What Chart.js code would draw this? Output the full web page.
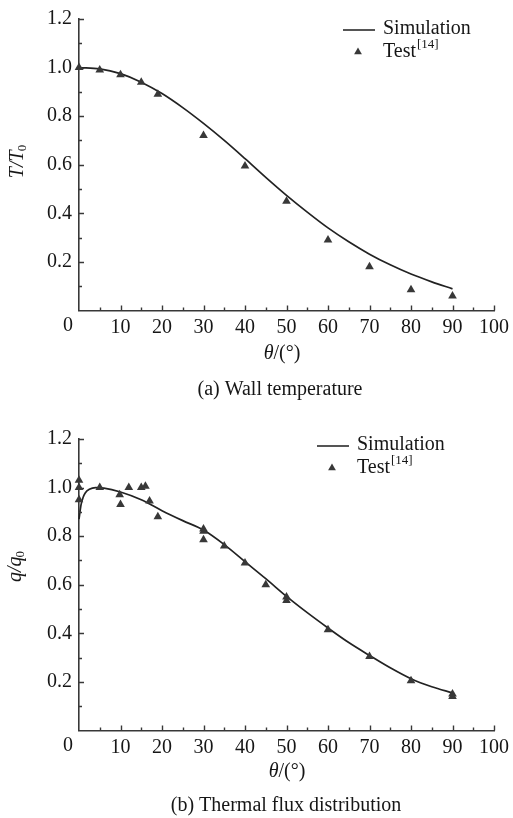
<!DOCTYPE html>
<html>
<head>
<meta charset="utf-8">
<script src="https://cdn.jsdelivr.net/npm/chart.js@4.4.1/dist/chart.umd.min.js"></script>
<style>
  html, body { margin: 0; padding: 0; background: #fff; width: 513px; height: 818px; overflow: hidden; }
  .panel { position: absolute; left: 0; }
  #wrapA { top: 0; }
  #wrapB { top: 420px; }
</style>
</head>
<body>
<div class="panel" id="wrapA"><canvas id="chartA" width="530" height="420"></canvas></div>
<div class="panel" id="wrapB"><canvas id="chartB" width="530" height="398"></canvas></div>
<script>
// ---- (a) wall temperature, T/T0 versus theta ----
const wallSimTheta = [0, 5, 10, 15, 20, 25, 30, 35, 40, 45, 50, 55, 60, 65, 70, 75, 80, 85, 90];
const wallSimT     = [1.0, 0.995, 0.975, 0.94, 0.893, 0.835, 0.77, 0.70, 0.625, 0.548, 0.474, 0.405, 0.34, 0.283, 0.232, 0.188, 0.15, 0.118, 0.089];
const wallTestTheta = [0, 5, 10, 15, 19, 30, 40, 50, 60, 70, 80, 90];
const wallTestT     = [1.0, 0.99, 0.97, 0.94, 0.89, 0.72, 0.595, 0.45, 0.29, 0.18, 0.085, 0.06];

// ---- (b) thermal flux, q/q0 versus theta ----
const fluxSimTheta = [0, 0.5, 1, 1.5, 2.5, 4, 6, 10, 15, 20, 25, 30, 35, 40, 45, 50, 55, 60, 65, 70, 75, 80, 85, 90];
const fluxSimQ     = [0.87, 0.93, 0.96, 0.978, 0.993, 1.0, 0.998, 0.982, 0.95, 0.905, 0.864, 0.825, 0.765, 0.695, 0.625, 0.552, 0.485, 0.422, 0.362, 0.309, 0.258, 0.213, 0.18, 0.155];
const fluxTestTheta = [0, 0, 0, 5, 9.8, 10, 12, 15, 16, 17, 19, 30, 30, 30, 35, 40, 45, 50, 50, 60, 70, 80, 90, 90];
const fluxTestQ     = [1.03, 1.0, 0.95, 1.0, 0.97, 0.93, 1.0, 1.0, 1.005, 0.945, 0.88, 0.83, 0.82, 0.785, 0.76, 0.69, 0.60, 0.55, 0.535, 0.415, 0.305, 0.205, 0.15, 0.14];

// axis tick values
const thetaTicks = [0, 10, 20, 30, 40, 50, 60, 70, 80, 90, 100];
const ratioTicks = [0.2, 0.4, 0.6, 0.8, 1.0, 1.2];

const legendLabels = ['Simulation', 'Test'];
const testRef = '[14]';

const SERIF = '"Liberation Serif", "Times New Roman", serif';
const INK = '#161616';
const AXIS = '#383838';
const MARK = '#383838';
const MARK_R = 5;

function pts(xs, ys) { return xs.map((x, i) => ({ x: x, y: ys[i] })); }

// draws inward ticks, axis titles, caption and legend
function decorPlugin(cfg) {
  return {
    id: 'decor',
    afterDraw(chart) {
      const ctx = chart.ctx;
      const xs = chart.scales.x, ys = chart.scales.y;
      const ca = chart.chartArea;
      ctx.save();
      // inward tick marks
      ctx.strokeStyle = AXIS;
      ctx.lineWidth = 1.4;
      ctx.beginPath();
      for (let v = 5; v <= 100; v += 5) {
        const px = Math.round(xs.getPixelForValue(v)) + 0.5;
        const len = (v % 10 === 0) ? 5 : 3;
        ctx.moveTo(px, ca.bottom);
        ctx.lineTo(px, ca.bottom - len);
      }
      for (let k = 1; k <= 12; k++) {
        const py = Math.round(ys.getPixelForValue(k / 10)) + 0.5;
        const len = (k % 2 === 0) ? 5 : 3;
        ctx.moveTo(ca.left, py);
        ctx.lineTo(ca.left + len, py);
      }
      ctx.stroke();

      ctx.fillStyle = INK;
      ctx.textBaseline = 'middle';
      // origin label sits left of the corner
      ctx.font = '20px ' + SERIF;
      ctx.textAlign = 'center';
      ctx.fillText(String(thetaTicks[0]), xs.getPixelForValue(0) - 11, ca.bottom + 15);

      // x axis title: θ/(°)
      const tx = cfg.xTitle[0], ty = cfg.xTitle[1];
      ctx.font = 'italic 20px ' + SERIF;
      const w1 = ctx.measureText('\u03B8').width;
      ctx.font = '20px ' + SERIF;
      const w2 = ctx.measureText('/(\u00B0)').width;
      let sx = tx - (w1 + w2) / 2;
      ctx.textAlign = 'left';
      ctx.font = 'italic 20px ' + SERIF;
      ctx.fillText('\u03B8', sx, ty);
      ctx.font = '20px ' + SERIF;
      ctx.fillText('/(\u00B0)', sx + w1, ty);

      // y axis title, rotated, with subscript 0
      ctx.save();
      ctx.translate(cfg.yTitle[0], cfg.yTitle[1]);
      ctx.rotate(-Math.PI / 2);
      const sym = cfg.symbol;
      ctx.font = 'italic 20px ' + SERIF;
      const main = sym + '/' + sym;
      const wm = ctx.measureText(main).width;
      ctx.font = '13px ' + SERIF;
      const ws = ctx.measureText('0').width;
      let ox = -(wm + ws) / 2;
      ctx.font = 'italic 20px ' + SERIF;
      ctx.fillText(main, ox, 0);
      ctx.font = '13px ' + SERIF;
      ctx.fillText('0', ox + wm - 1, 5);
      ctx.restore();

      // caption under the panel
      ctx.font = '20px ' + SERIF;
      ctx.textAlign = 'center';
      ctx.fillText(cfg.caption, cfg.capPos[0], cfg.capPos[1]);

      // legend
      const lx = cfg.legend[0], ly = cfg.legend[1];
      ctx.strokeStyle = '#2a2a2a';
      ctx.lineWidth = 1.6;
      ctx.beginPath();
      ctx.moveTo(lx, ly);
      ctx.lineTo(lx + 32, ly);
      ctx.stroke();
      const r = MARK_R - 0.5, cx = lx + 15, cy = ly + 22;
      ctx.fillStyle = MARK;
      ctx.beginPath();
      for (let i = 0; i < 3; i++) {
        const a = i * 2 * Math.PI / 3;
        const px = cx + Math.sin(a) * r, py = cy - Math.cos(a) * r;
        if (i === 0) ctx.moveTo(px, py); else ctx.lineTo(px, py);
      }
      ctx.closePath();
      ctx.fill();
      ctx.fillStyle = INK;
      ctx.textAlign = 'left';
      ctx.font = '20px ' + SERIF;
      ctx.fillText(legendLabels[0], lx + 40, ly - 1);
      ctx.fillText(legendLabels[1], lx + 40, cy);
      const wt = ctx.measureText(legendLabels[1]).width;
      ctx.font = '13px ' + SERIF;
      ctx.fillText(testRef, lx + 40 + wt + 1, cy - 7);
      ctx.restore();
    }
  };
}

function makeChart(id, simX, simY, testX, testY, canvasH, areaTop, areaBottom, cfg) {
  return new Chart(document.getElementById(id), {
    type: 'scatter',
    data: {
      datasets: [
        {
          label: legendLabels[1],
          data: pts(testX, testY),
          pointStyle: 'triangle',
          pointRadius: MARK_R,
          pointBackgroundColor: MARK,
          pointBorderColor: MARK,
          pointBorderWidth: 0,
          showLine: false,
          clip: false,
          order: 0
        },
        {
          label: legendLabels[0],
          data: pts(simX, simY),
          showLine: true,
          borderColor: '#222',
          borderWidth: 1.7,
          pointRadius: 0,
          cubicInterpolationMode: 'monotone',
          clip: false,
          order: 1
        }
      ]
    },
    options: {
      responsive: false,
      animation: false,
      devicePixelRatio: 1,
      layout: { padding: { top: areaTop, right: 36, left: 0, bottom: 0 } },
      plugins: { legend: { display: false }, tooltip: { enabled: false } },
      scales: {
        x: {
          type: 'linear',
          min: 0, max: 100,
          afterBuildTicks: (s) => { s.ticks = thetaTicks.map(v => ({ value: v })); },
          afterFit: (s) => { s.height = canvasH - areaBottom; },
          grid: { display: false, drawTicks: false },
          border: { display: true, color: AXIS, width: 1.6 },
          ticks: {
            autoSkip: false, maxRotation: 0, padding: 5,
            color: INK, font: { family: SERIF, size: 20 },
            callback: (v) => (v === 0 ? '' : String(v))
          }
        },
        y: {
          type: 'linear',
          min: 0, max: 1.2,
          afterBuildTicks: (s) => { s.ticks = [0].concat(ratioTicks).map(v => ({ value: v })); },
          afterFit: (s) => { s.width = 79; },
          grid: { display: false, drawTicks: false },
          border: { display: true, color: AXIS, width: 1.6 },
          ticks: {
            padding: 7,
            color: INK, font: { family: SERIF, size: 20 },
            callback: (v) => (v === 0 ? '' : Number(v).toFixed(1))
          }
        }
      }
    },
    plugins: [decorPlugin(cfg)]
  });
}

makeChart('chartA', wallSimTheta, wallSimT, wallTestTheta, wallTestT, 420, 15, 310.5, {
  symbol: 'T',
  xTitle: [282, 354],
  yTitle: [18, 161],
  caption: '(a) Wall temperature',
  capPos: [280, 390],
  legend: [343, 30]
});

makeChart('chartB', fluxSimTheta, fluxSimQ, fluxTestTheta, fluxTestQ, 398, 10.5, 310.5, {
  symbol: 'q',
  xTitle: [287, 352],
  yTitle: [16, 146],
  caption: '(b) Thermal flux distribution',
  capPos: [286, 386],
  legend: [317, 26]
});
</script>
</body>
</html>
